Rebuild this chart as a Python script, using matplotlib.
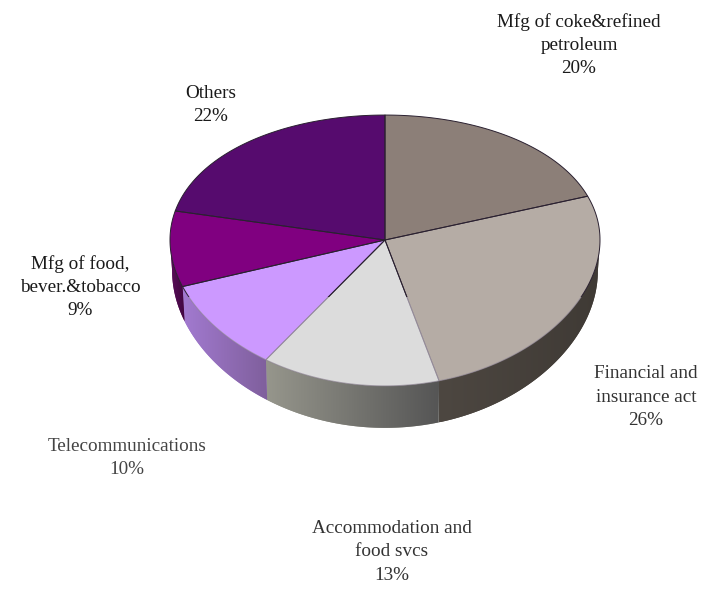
import matplotlib
matplotlib.use("Agg")
import matplotlib.pyplot as plt
import numpy as np
from matplotlib.colors import LinearSegmentedColormap
from matplotlib.patches import Rectangle

labels = ["Mfg of coke&refined\npetroleum", "Financial and\ninsurance act", "Accommodation and\nfood svcs",
          "Telecommunications", "Mfg of food,\nbever.&tobacco", "Others"]
# the slices read a little off the printed whole percentages
shares = [19.6, 26.4, 13.4, 10.2, 9.0, 21.5]
top_colors = ["#8c7f78", "#b5aca5", "#dcdcdc", "#cc99ff", "#800080", "#560b6e"]
# wall colour at left and right end of each slice
wall_colors = [("#5a514c", "#5a514c"), ("#4d4741", "#3f3a35"), ("#96968c", "#555555"),
               ("#a27ad0", "#7f5f9c"), ("#5a0f5a", "#40063f"), ("#40063f", "#40063f")]
label_pos = [(579, 45), (646, 397), (392, 552), (127, 458), (80, 287), (211, 105)]
label_colors = ["#1a1a1a", "#333333", "#333333", "#444444", "#1a1a1a", "#1a1a1a"]

# projection of the tilted disc, in pixels
cx, cy = 385, 240
rx = 215
a, b = 134.6, 0.0772


def rim(theta):
    s, c = np.sin(theta), np.cos(theta)
    return cx + rx * s, cy - a * c / (1 + b * c)


def wall_bottom(theta):
    x, y = rim(theta)
    c = np.cos(theta)
    return cx + (x - cx) * 0.99, y + 31 - 11 * c


fig = plt.figure(figsize=(7.05, 5.9), dpi=100)
ax = fig.add_axes([0, 0, 1, 1])

edges = np.cumsum([0] + shares) / sum(shares) * 2 * np.pi

# side walls first
for i in range(len(shares)):
    t0 = max(edges[i], np.pi / 2)
    t1 = min(edges[i + 1], 3 * np.pi / 2)
    if t1 <= t0:
        continue
    t = np.linspace(t0, t1, 80)
    x1, y1 = rim(t)
    x2, y2 = wall_bottom(t)
    xs = np.r_[x1, x2[::-1]]
    ys = np.r_[y1, y2[::-1]]
    poly = ax.fill(xs, ys, color=wall_colors[i][0], lw=0)[0]
    cmap = LinearSegmentedColormap.from_list("w", wall_colors[i])
    im = ax.imshow(np.linspace(0, 1, 128)[None, :], cmap=cmap, aspect="auto", zorder=2,
                   extent=(xs.min(), xs.max(), ys.max(), ys.min()))
    im.set_clip_path(poly)

# top face
polys = []
for i in range(len(shares)):
    t = np.linspace(edges[i], edges[i + 1], 120)
    x, y = rim(t)
    xs = np.r_[cx, x]
    ys = np.r_[cy, y]
    ax.fill(xs, ys, color=top_colors[i], lw=0, zorder=3)
    polys.append((xs, ys))

# outlines are crisp on the upper part of the disc and fade lower down
upper = Rectangle((0, 0), 705, 297, transform=ax.transData)
lower = Rectangle((0, 297), 705, 293, transform=ax.transData)
for xs, ys in polys:
    xc, yc = np.r_[xs, xs[0]], np.r_[ys, ys[0]]
    ln = ax.plot(xc, yc, color="#2a2030", lw=0.7, zorder=4)[0]
    ln.set_clip_path(upper)
    ln2 = ax.plot(xc, yc, color="#8a8090", lw=0.7, alpha=0.7, zorder=4)[0]
    ln2.set_clip_path(lower)

for text, pct, pos, col in zip(labels, shares, label_pos, label_colors):
    ax.text(pos[0], pos[1], f"{text}\n{pct:.0f}%", ha="center", va="center", color=col,
            family="Liberation Serif", fontsize=13.8, linespacing=1.48, zorder=5)

ax.set_xlim(0, 705)
ax.set_ylim(590, 0)
ax.axis("off")
fig.savefig("out.png", dpi=100)
